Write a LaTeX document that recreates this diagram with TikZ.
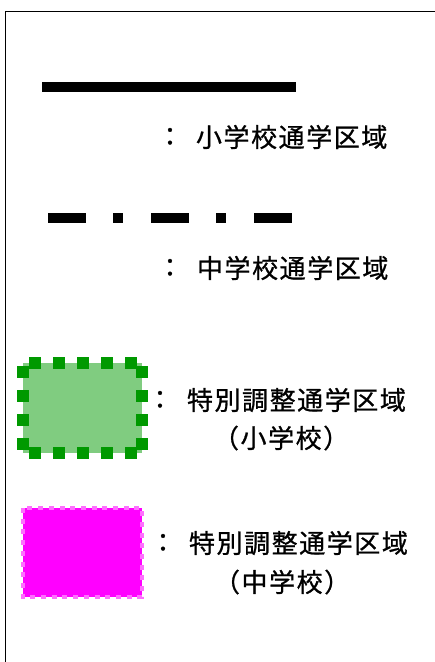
\documentclass[tikz,border=0pt]{standalone}
\usepackage{fontspec}
\newfontfamily\jp[LetterSpace=6,FakeBold=0.8]{Noto Sans CJK JP}
\begin{document}
\begin{tikzpicture}[x=1pt,y=-1pt,
  lbl/.style={inner sep=0pt,outer sep=0pt,anchor=west,font=\jp\fontsize{26}{30}\selectfont},
  colon/.style={inner sep=0pt,outer sep=0pt,anchor=center,font=\jp\fontsize{26}{30}\selectfont}]
\useasboundingbox (0,0) rectangle (435,662);
\fill[white] (0,0) rectangle (435,662);
% frame
\draw[line width=1.6pt] (5.5,662) -- (5.5,11.5) -- (435,11.5);
% solid line legend
\coordinate (s1) at (42,87);
\coordinate (s2) at (296,87);
\draw[line width=9.5pt] (s1) -- (s2);
\node[colon] (c1) at (170,137) {：};
\node[lbl] (t1) at (196,137) {小学校通学区域};
% dash-dot line legend
\coordinate (d1) at (48,218);
\coordinate (d2) at (292,218);
\draw[line width=9.5pt,dash pattern=on 38pt off 27pt on 10pt off 28pt] (d1) -- (d2);
\node[colon] (c2) at (170,268) {：};
\node[lbl] (t2) at (197,268) {中学校通学区域};
% green area
\fill[fill={rgb,255:red,128;green,204;blue,128}] (23,363) rectangle (142,453);
\draw[line width=12pt,color={rgb,255:red,0;green,153;blue,0},dash pattern=on 12pt off 12pt,dash phase=-6pt] (23,363) -- (142,363);
\draw[line width=12pt,color={rgb,255:red,0;green,153;blue,0},dash pattern=on 12pt off 12pt,dash phase=-6pt] (23,453) -- (142,453);
\draw[line width=12pt,color={rgb,255:red,0;green,153;blue,0},dash pattern=on 12pt off 12pt,dash phase=-3pt] (23,363) -- (23,453);
\draw[line width=12pt,color={rgb,255:red,0;green,153;blue,0},dash pattern=on 12pt off 12pt,dash phase=-3pt] (142,363) -- (142,453);
\node[colon] (c3) at (160,400) {：};
\node[lbl] (t3) at (187,400) {特別調整通学区域};
\node[lbl] (t3b) at (213,438) {（小学校）};
% magenta area
\fill[fill={rgb,255:red,255;green,0;blue,255}] (23,508) rectangle (142,597);
\draw[line width=4pt,color={rgb,255:red,255;green,110;blue,255},dash pattern=on 5pt off 5.7pt] (23,508) rectangle (142,597);
\node[colon] (c4) at (163,543) {：};
\node[lbl] (t4) at (189,543) {特別調整通学区域};
\node[lbl] (t4b) at (214,582) {（中学校）};
\end{tikzpicture}
\end{document}
